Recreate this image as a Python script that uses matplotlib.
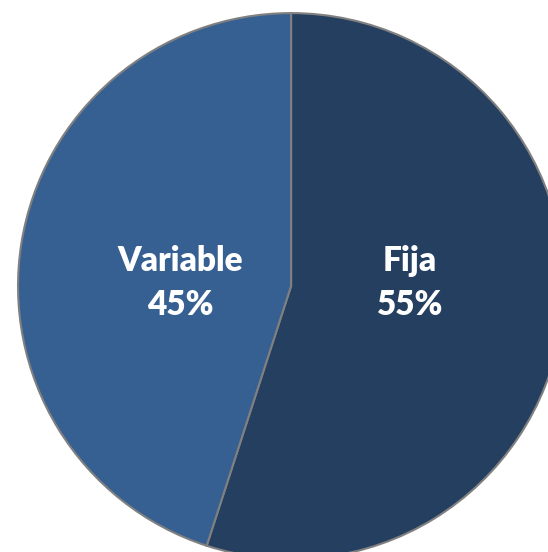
import matplotlib
matplotlib.use("Agg")
import matplotlib.pyplot as plt

categories = ['Fija', 'Variable']
shares = [55, 45]
colors = ['#253F60', '#366092']

fig = plt.figure(figsize=(5.48, 5.52), dpi=100)
ax = fig.add_axes([0, 0, 1, 1])

wedges, _ = ax.pie(shares, colors=colors, startangle=90, counterclock=False,
                   radius=1.0, center=(0, 0),
                   wedgeprops=dict(edgecolor='#808080', linewidth=1.5))

# label positions (data units, radius = 1)
label_pos = {'Fija': (0.436, 0.012), 'Variable': (-0.407, 0.012)}
for name, val in zip(categories, shares):
    x, y = label_pos[name]
    ax.text(x, y, f'{name}\n{val}%', ha='center', va='center',
            color='white', fontsize=24, fontweight='heavy', family='Lato',
            linespacing=1.45)

ax.set_xlim(-1.066, 0.941)
ax.set_ylim(-0.974, 1.048)
ax.set_aspect('auto')
ax.axis('off')

fig.savefig('out.png', dpi=100)
